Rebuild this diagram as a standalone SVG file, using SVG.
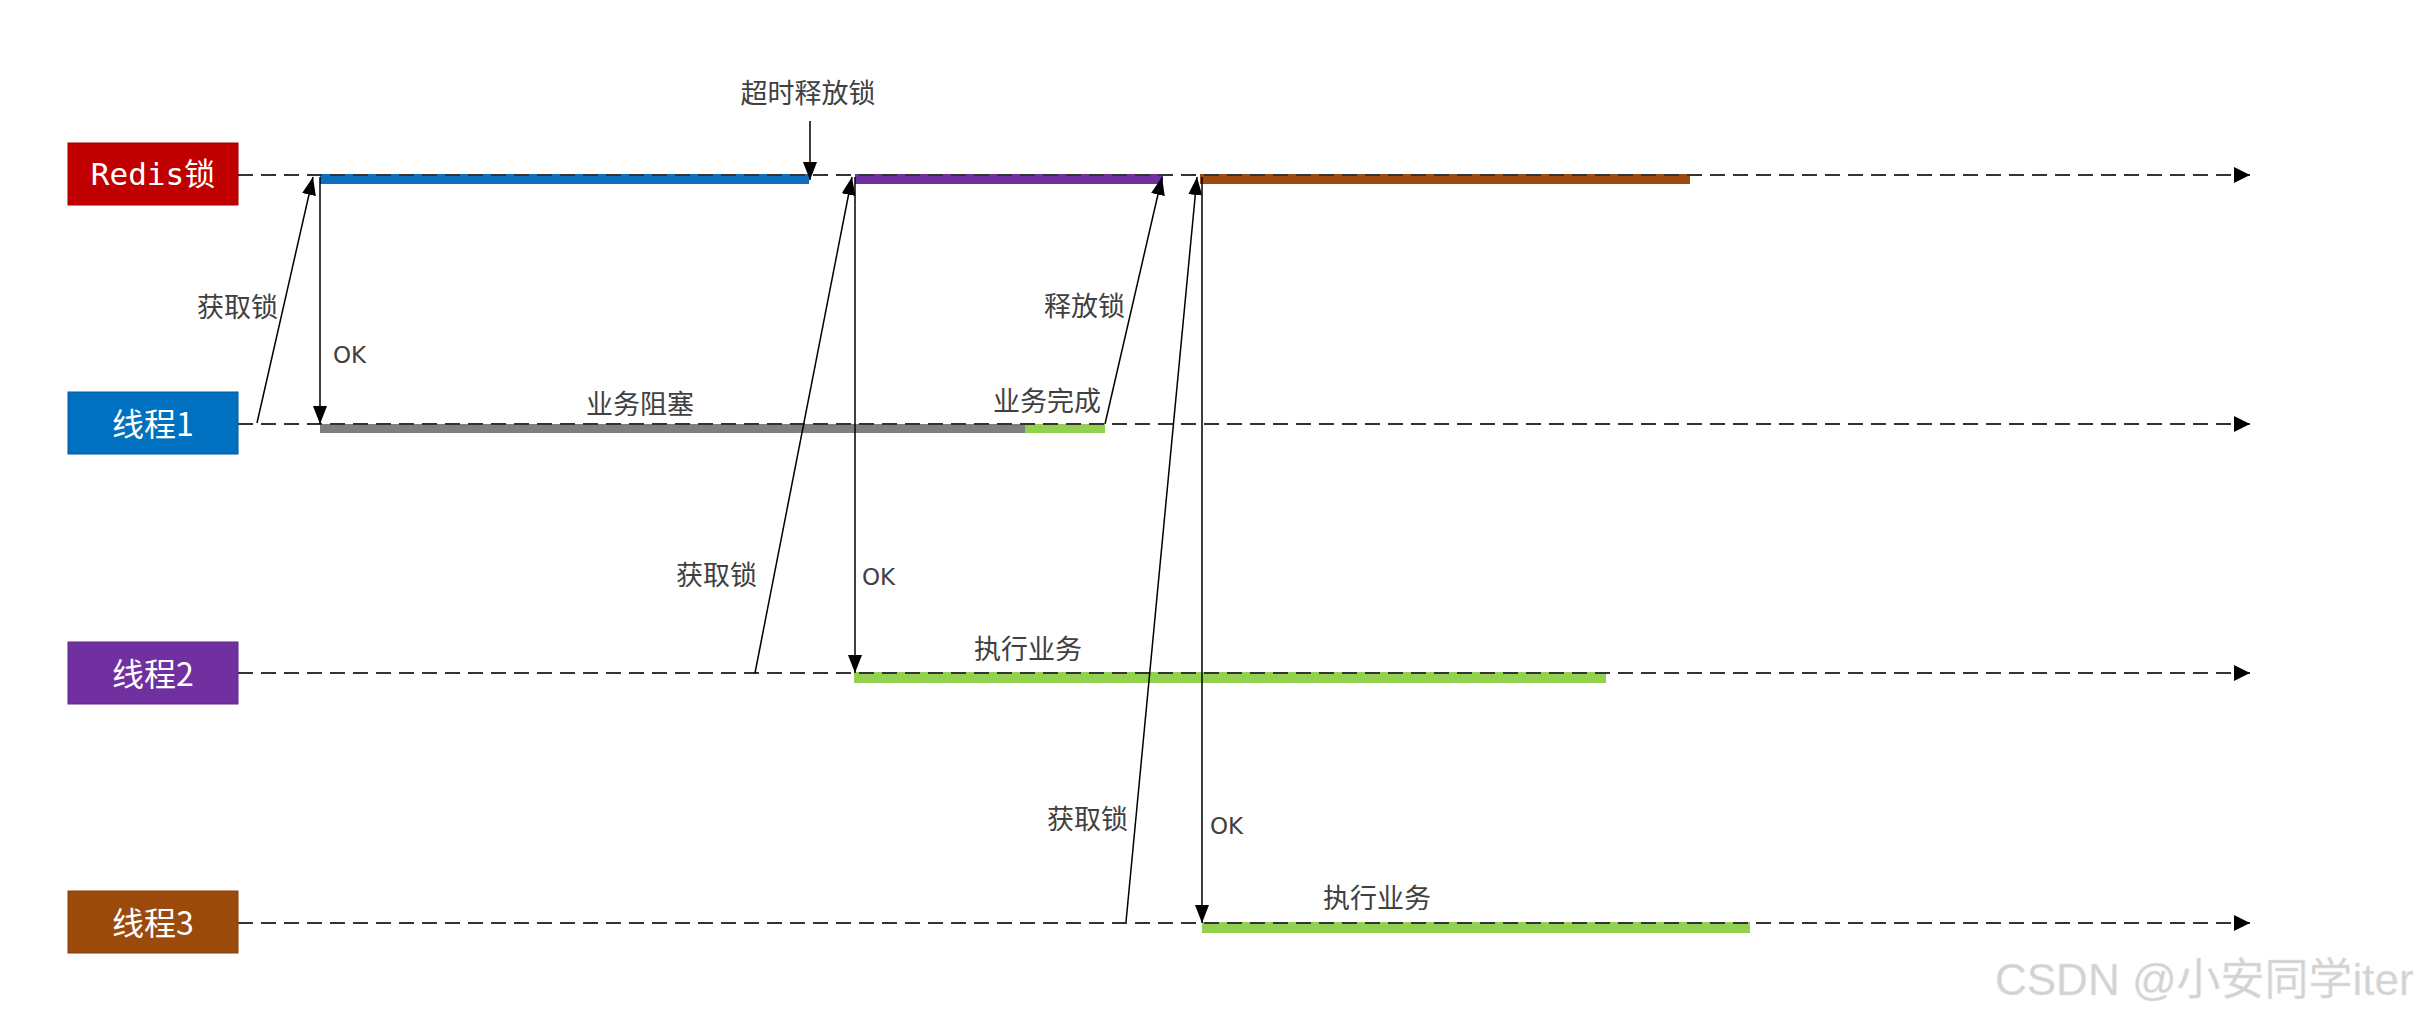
<svg xmlns="http://www.w3.org/2000/svg" width="2432" height="1018" viewBox="0 0 2432 1018">
<style>
.box-text{font-family:"Noto Sans CJK SC","Noto Sans",sans-serif;font-size:32px;fill:#ffffff;text-anchor:middle;dominant-baseline:central}
.mono{font-family:"DejaVu Sans Mono","Noto Sans CJK SC",monospace;font-size:31px}
.lbl{font-family:"Noto Sans CJK SC","Noto Sans",sans-serif;font-size:27px;fill:#404040}
.ok{font-family:"DejaVu Sans",sans-serif;font-size:23px;fill:#404040}
.life{stroke:#333333;stroke-width:2.2;stroke-dasharray:15 8;fill:none}
.msg{stroke:#000000;stroke-width:1.5;fill:none}
.wm{font-family:"Liberation Sans","Noto Sans CJK SC",sans-serif;font-size:44px;fill:#d2d2d2;stroke:#e8e8e8;stroke-width:0.5}
</style>
<defs>
<marker id="ah" markerUnits="userSpaceOnUse" markerWidth="18" markerHeight="14" refX="18" refY="7" orient="auto">
<path d="M0,0 L18,7 L0,14 z" fill="#000000"/>
</marker>
<marker id="lh" markerUnits="userSpaceOnUse" markerWidth="16" markerHeight="16" refX="16" refY="8" orient="auto">
<path d="M0,0 L16,8 L0,16 z" fill="#000000"/>
</marker>
</defs>
<rect width="2432" height="1018" fill="#ffffff"/>

<g id="bars">
<rect x="320" y="174" width="489" height="10" fill="#0F6EBE"/>
<rect x="855" y="174" width="308" height="10" fill="#7030A0"/>
<rect x="1200" y="174" width="490" height="10" fill="#9E4A10"/>
<rect x="320" y="424" width="705" height="9" fill="#7F7F7F"/>
<rect x="1025" y="424" width="80" height="9" fill="#92D050"/>
<rect x="854" y="672" width="752" height="11" fill="#92D050"/>
<rect x="1202" y="922" width="548" height="11" fill="#92D050"/>
</g>

<g id="lifelines">
<line class="life" x1="238" y1="175" x2="2250" y2="175" marker-end="url(#lh)"/>
<line class="life" x1="238" y1="424" x2="2250" y2="424" marker-end="url(#lh)"/>
<line class="life" x1="238" y1="673" x2="2250" y2="673" marker-end="url(#lh)"/>
<line class="life" x1="238" y1="923" x2="2250" y2="923" marker-end="url(#lh)"/>
</g>

<g id="node-redis">
<rect x="68" y="143" width="170" height="62" fill="#C00000" stroke="#A00000" stroke-width="1"/>
<text class="box-text mono" x="153" y="174">Redis锁</text>
</g>
<g id="node-thread1">
<rect x="68" y="392" width="170" height="62" fill="#0070C0" stroke="#005A9E" stroke-width="1"/>
<text class="box-text" x="153" y="422">线程1</text>
</g>
<g id="node-thread2">
<rect x="68" y="642" width="170" height="62" fill="#7030A0" stroke="#5E2888" stroke-width="1"/>
<text class="box-text" x="153" y="672">线程2</text>
</g>
<g id="node-thread3">
<rect x="68" y="891" width="170" height="62" fill="#9C4A0C" stroke="#843E0A" stroke-width="1"/>
<text class="box-text" x="153" y="921">线程3</text>
</g>

<g id="connectors">
<line class="msg" x1="257" y1="423" x2="313" y2="177" marker-end="url(#ah)"/>
<line class="msg" x1="320" y1="177" x2="320" y2="424" marker-end="url(#ah)"/>
<line class="msg" x1="810" y1="121" x2="810" y2="180" marker-end="url(#ah)"/>
<line class="msg" x1="755" y1="673" x2="852" y2="177" marker-end="url(#ah)"/>
<line class="msg" x1="855" y1="177" x2="855" y2="673" marker-end="url(#ah)"/>
<line class="msg" x1="1105" y1="424" x2="1162" y2="177" marker-end="url(#ah)"/>
<line class="msg" x1="1126" y1="922" x2="1197" y2="177" marker-end="url(#ah)"/>
<line class="msg" x1="1202" y1="177" x2="1202" y2="923" marker-end="url(#ah)"/>
</g>

<g id="labels">
<text class="lbl" x="808" y="103" text-anchor="middle">超时释放锁</text>
<text class="lbl" x="278" y="317" text-anchor="end">获取锁</text>
<text class="ok" x="333" y="363">OK</text>
<text class="lbl" x="640" y="414" text-anchor="middle">业务阻塞</text>
<text class="lbl" x="1125" y="316" text-anchor="end">释放锁</text>
<text class="lbl" x="1047" y="411" text-anchor="middle">业务完成</text>
<text class="lbl" x="757" y="585" text-anchor="end">获取锁</text>
<text class="ok" x="862" y="585">OK</text>
<text class="lbl" x="1028" y="659" text-anchor="middle">执行业务</text>
<text class="lbl" x="1128" y="829" text-anchor="end">获取锁</text>
<text class="ok" x="1210" y="834">OK</text>
<text class="lbl" x="1377" y="908" text-anchor="middle">执行业务</text>
</g>

<text class="wm" x="1995" y="995">CSDN @小安同学iter</text>
</svg>
